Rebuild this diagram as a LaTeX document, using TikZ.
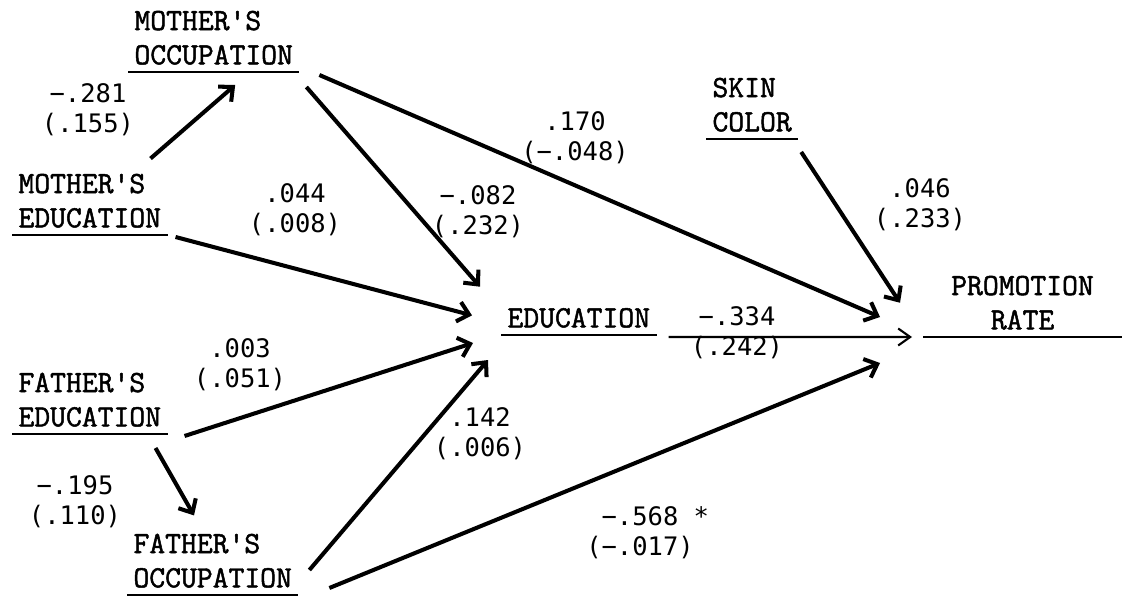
\documentclass[tikz,border=0pt]{standalone}
\usepackage{fontspec}
\usepackage{tikz}
\usetikzlibrary{arrows.meta}
\newfontfamily\varfont{Latin Modern Mono}[FakeBold=1.6]
\newfontfamily\coeffont{DejaVu Sans Mono}
\newcommand{\varlab}{\varfont\bfseries\fontsize{17.5}{19.5}\selectfont}
\newcommand{\coeflab}{\coeffont\fontsize{14.5}{17}\selectfont}
\tikzset{
  varnode/.style={font=\varlab, align=left, inner xsep=3.5pt, inner ysep=0pt, anchor=south west},
  coef/.style={font=\coeflab, align=center, inner sep=0pt},
  pathln/.style={-{Straight Barb[length=2.2mm,width=4mm]}, line width=2.3pt},
  directln/.style={-{Straight Barb[length=2.4mm,width=3.4mm]}, line width=1.2pt},
  uline/.style={line width=1.1pt},
}

\begin{document}
\begin{tikzpicture}
  \useasboundingbox (0,0) rectangle (22.44,12);
  % variables
  \node[varnode] (mo)  at (2.56,10.70) {MOTHER'S\\OCCUPATION};
  \node[varnode] (me)  at (0.24,7.44)  {MOTHER'S\\EDUCATION};
  \node[varnode] (fe)  at (0.24,3.46)  {FATHER'S\\EDUCATION};
  \node[varnode] (fo)  at (2.54,0.24)  {FATHER'S\\OCCUPATION};
  \node[varnode] (edu) at (10.02,5.44) {EDUCATION};
  \node[varnode] (sk)  at (14.12,9.36) {SKIN\\COLOR};
  \node[varnode, align=center, text width=3.72cm] (pr) at (18.46,5.40) {PROMOTION\\RATE};
  \foreach \n in {mo,me,fe,fo,edu,sk,pr}
    \draw[uline] ([yshift=-0.14cm]\n.south west) -- ([yshift=-0.14cm]\n.south east);

  % paths
  \draw[pathln] ([shift={(-0.34,0.30)}]me.north east) -- ([shift={(0.43,-0.40)}]mo.south);
  \draw[pathln] ([shift={(0.14,-0.44)}]mo.south east) -- ([shift={(-0.42,0.42)}]edu.north west);
  \draw[pathln] ([shift={(0.40,-0.20)}]mo.south east) -- ([shift={(-0.86,0.26)}]pr.south west);
  \draw[pathln] ([shift={(0.16,-0.18)}]me.south east) -- ([shift={(-0.58,0.05)}]edu.west);
  \draw[pathln] ([shift={(0.34,-0.18)}]fe.south east) -- ([shift={(-0.56,-0.30)}]edu.south west);
  \draw[pathln] ([shift={(-0.24,-0.42)}]fe.south east) -- ([shift={(1.34,0.36)}]fo.north west);
  \draw[pathln] ([shift={(0.22,0.36)}]fo.south east) -- ([shift={(-0.26,-0.64)}]edu.south west);
  \draw[pathln] ([shift={(0.62,0)}]fo.south east) -- ([shift={(-0.86,-0.66)}]pr.south west);
  \draw[pathln] ([shift={(0.06,-0.40)}]sk.south east) -- ([shift={(-0.46,0)}]pr.west);
  \draw[directln] ([shift={(0.24,-0.18)}]edu.south east) -- ([shift={(-0.22,-0.14)}]pr.south west);

  % coefficients
  \node[coef] (c281) at (1.76,9.80)  {−.281\\(.155)};
  \node[coef] (c044) at (5.90,7.80)  {.044\\(.008)};
  \node[coef] (c082) at (9.56,7.76)  {−.082\\(.232)};
  \node[coef] (c170) at (11.50,9.24) {.170\\(−.048)};
  \node[coef] (c046) at (18.40,7.90) {.046\\(.233)};
  \node[coef] (c334) at (14.74,5.34) {−.334\\(.242)};
  \node[coef] (c003) at (4.80,4.70)  {.003\\(.051)};
  \node[coef] (c195) at (1.50,1.96)  {−.195\\(.110)};
  \node[coef] (c142) at (9.60,3.32)  {.142\\(.006)};
  \node[coef] (c568) at (12.80,1.34) {−.568\rlap{ *}\\(−.017)};
\end{tikzpicture}
\end{document}
